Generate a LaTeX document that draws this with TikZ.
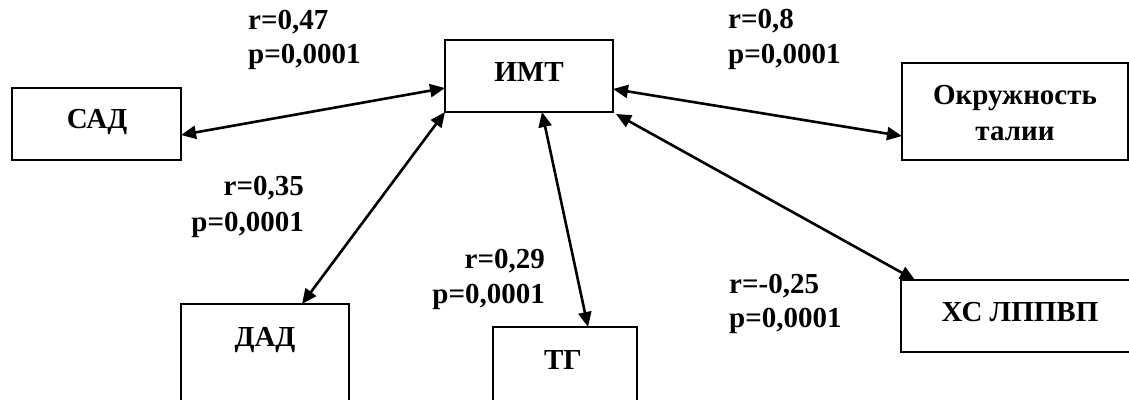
\documentclass[tikz,border=0pt]{standalone}
\usepackage{fontspec}
\setmainfont{Liberation Serif}
\usetikzlibrary{arrows.meta}
\begin{document}
\begin{tikzpicture}[x=1pt,y=-1pt,
  box/.style={draw,line width=2.6pt,inner sep=0pt,outer sep=0pt,anchor=north west},
  txt/.style={inner sep=0pt,font=\fontsize{29}{34}\selectfont\bfseries},
  arr/.style={line width=2.6pt,{Triangle[length=15pt,width=13pt]}-{Triangle[length=15pt,width=13pt]}}]
\useasboundingbox (0,0) rectangle (1129,399);
% boxes
\node[box,minimum width=169pt,minimum height=72pt] (sad) at (12,88) {};
\node[box,minimum width=168pt,minimum height=72pt] (imt) at (445,40) {};
\node[box,minimum width=226pt,minimum height=97pt] (okr) at (902,63) {};
\node[box,minimum width=168pt,minimum height=130pt] (dad) at (181,304) {};
\node[box,minimum width=144pt,minimum height=110pt] (tg) at (493,327) {};
\node[box,minimum width=232pt,minimum height=72pt] (xs) at (901,280) {};
% box texts
\node[txt,anchor=base] (tsad) at (97,128) {САД};
\node[txt,anchor=base] (timt) at (529,81) {ИМТ};
\node[txt,anchor=base] (tokr1) at (1015,104) {Окружность};
\node[txt,anchor=base] (tokr2) at (1015,140) {талии};
\node[txt,anchor=base] (tdad) at (265,346) {ДАД};
\node[txt,anchor=base] (ttg) at (563,369) {ТГ};
\node[txt,anchor=base] (txs) at (1020,321) {ХС ЛППВП};
% labels
\node[txt,anchor=base west] (l1r) at (248,29) {r=0,47};
\node[txt,anchor=base west] (l1p) at (248,63) {p=0,0001};
\node[txt,anchor=base west] (l2r) at (728,28) {r=0,8};
\node[txt,anchor=base west] (l2p) at (728,63) {p=0,0001};
\node[txt,anchor=base east] (l3r) at (304,195) {r=0,35};
\node[txt,anchor=base east] (l3p) at (304,231) {p=0,0001};
\node[txt,anchor=base east] (l4r) at (545,268) {r=0,29};
\node[txt,anchor=base east] (l4p) at (545,303) {p=0,0001};
\node[txt,anchor=base west] (l5r) at (729,293) {r=-0,25};
\node[txt,anchor=base west] (l5p) at (729,327) {p=0,0001};
% connectors
\draw[arr] ([yshift=-11pt]sad.east) -- ([yshift=-12pt]imt.west);
\draw[arr] ([yshift=-13pt]imt.east) -- ([yshift=-24.5pt]okr.west);
\draw[arr] (imt.south west) -- ([xshift=121pt]dad.north west);
\draw[arr] ([xshift=13pt]imt.south) -- ([xshift=95pt]tg.north west);
\draw[arr] ([xshift=3pt,yshift=-2pt]imt.south east) -- ([xshift=14pt]xs.north west);
\end{tikzpicture}
\end{document}
